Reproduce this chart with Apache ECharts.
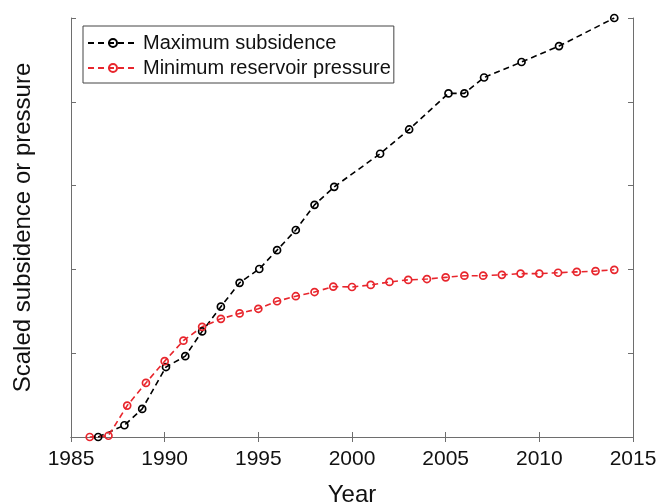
<!DOCTYPE html>
<html>
<head>
<meta charset="utf-8">
<script src="https://cdn.jsdelivr.net/npm/echarts@6/dist/echarts.min.js"></script>
<style>
  html, body { margin: 0; padding: 0; background: #fff; }
  #chart { width: 659px; height: 504px; }
</style>
</head>
<body>
<div id="chart"></div>
<script>
// Survey dates and scaled values
const subsidenceYears = [1986.45, 1987.85, 1988.8, 1990.07, 1991.1, 1992.0, 1993.0, 1994.0, 1995.05, 1996.0,
  1997.0, 1998.0, 1999.05, 2001.5, 2003.05, 2005.15, 2006.0, 2007.05, 2009.05, 2011.05, 2014.0];
const subsidenceValues = [0, 0.028, 0.067, 0.167, 0.193, 0.252, 0.311, 0.368, 0.401, 0.446,
  0.494, 0.554, 0.597, 0.676, 0.734, 0.82, 0.82, 0.858, 0.895, 0.933, 1.0];

const pressureYears = [1986, 1987, 1988, 1989, 1990, 1991, 1992, 1993, 1994, 1995, 1996, 1997, 1998, 1999,
  2000, 2001, 2002, 2003, 2004, 2005, 2006, 2007, 2008, 2009, 2010, 2011, 2012, 2013, 2014];
const pressureValues = [0, 0.003, 0.075, 0.129, 0.181, 0.23, 0.263, 0.282, 0.295, 0.306, 0.324, 0.336, 0.346, 0.359,
  0.358, 0.363, 0.370, 0.375, 0.377, 0.381, 0.385, 0.385, 0.387, 0.39, 0.39, 0.392, 0.394, 0.396, 0.399];

const seriesNames = ['Maximum subsidence', 'Minimum reservoir pressure'];
const xTitle = 'Year';
const yTitle = 'Scaled subsidence or pressure';

const pairs = (xs, ys) => xs.map((x, i) => [x, ys[i]]);

const axisGray = '#6e6e6e';
const font = 'Liberation Sans, Arial, sans-serif';
const red = '#e8262d';

const baseAxis = {
  axisLine: { show: true, lineStyle: { color: axisGray, width: 1 } },
  axisTick: { show: true, inside: true, length: 5, lineStyle: { color: axisGray } },
  splitLine: { show: false }
};

function lineSeries(name, data, color) {
  return {
    name: name,
    type: 'line',
    data: data,
    symbol: 'circle',
    symbolSize: 7,
    showAllSymbol: true,
    lineStyle: { color: color, width: 1.6, type: [6, 4] },
    itemStyle: { color: 'rgba(255,255,255,0)', borderColor: color, borderWidth: 1.7 },
    emphasis: { disabled: true },
    animation: false
  };
}

const chart = echarts.init(document.getElementById('chart'), null, { renderer: 'canvas' });
chart.setOption({
  backgroundColor: '#fff',
  animation: false,
  grid: { left: 71, right: 26, top: 18, bottom: 67, outerBoundsMode: 'none', containLabel: false },
  legend: {
    orient: 'vertical',
    left: 83,
    top: 26,
    padding: [7, 3, 5, 4],
    itemGap: 5,
    itemWidth: 50,
    itemHeight: 10,
    itemStyle: { color: 'rgba(255,255,255,0)' },
    backgroundColor: '#fff',
    borderColor: '#444',
    borderWidth: 1,
    textStyle: { fontFamily: font, fontSize: 20, color: '#111' },
    data: seriesNames
  },
  xAxis: [
    Object.assign({}, baseAxis, {
      type: 'value', position: 'bottom', min: 1985, max: 2015, interval: 5,
      name: xTitle, nameLocation: 'middle', nameGap: 46,
      nameTextStyle: { fontFamily: font, fontSize: 24, color: '#111' },
      axisLabel: { margin: 12, fontFamily: font, fontSize: 21, color: '#111', formatter: v => String(v) }
    }),
    Object.assign({}, baseAxis, {
      type: 'value', position: 'top', min: 1985, max: 2015, interval: 5,
      axisLabel: { show: false }
    })
  ],
  yAxis: [
    Object.assign({}, baseAxis, {
      type: 'value', position: 'left', min: 0, max: 1, interval: 0.2,
      name: yTitle, nameLocation: 'middle', nameGap: 36,
      nameTextStyle: { fontFamily: font, fontSize: 24, color: '#111' },
      axisLabel: { show: false }
    }),
    Object.assign({}, baseAxis, {
      type: 'value', position: 'right', min: 0, max: 1, interval: 0.2,
      axisLabel: { show: false }
    })
  ],
  series: [
    lineSeries(seriesNames[0], pairs(subsidenceYears, subsidenceValues), '#000'),
    lineSeries(seriesNames[1], pairs(pressureYears, pressureValues), red)
  ]
});
</script>
</body>
</html>
